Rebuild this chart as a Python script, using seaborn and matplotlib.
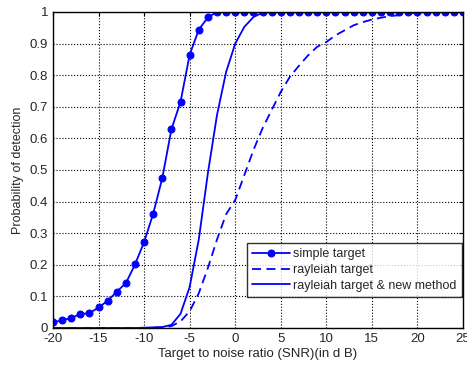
import numpy as np
import pandas as pd
import matplotlib
matplotlib.use("Agg")
import matplotlib.pyplot as plt
import seaborn as sns

snr = list(range(-20, 26))

simple_target = [0.018, 0.024, 0.032, 0.044, 0.047, 0.065, 0.086, 0.115, 0.142, 0.201,
                 0.272, 0.362, 0.475, 0.629, 0.716, 0.865, 0.944, 0.983, 1.0, 1.0,
                 1.0, 1.0, 1.0, 1.0, 1.0, 1.0, 1.0, 1.0, 1.0, 1.0,
                 1.0, 1.0, 1.0, 1.0, 1.0, 1.0, 1.0, 1.0, 1.0, 1.0,
                 1.0, 1.0, 1.0, 1.0, 1.0, 1.0]

rayleigh_target = [0.0, 0.0, 0.0, 0.0, 0.0, 0.0, 0.0, 0.0, 0.0, 0.0,
                   0.0, 0.001, 0.002, 0.006, 0.021, 0.053, 0.11, 0.19, 0.28, 0.36,
                   0.405, 0.484, 0.563, 0.632, 0.69, 0.747, 0.795, 0.83, 0.863, 0.89,
                   0.905, 0.926, 0.942, 0.958, 0.968, 0.976, 0.982, 0.987, 0.99, 0.995,
                   0.998, 1.0, 1.0, 1.0, 1.0, 1.0]

rayleigh_new = [0.0, 0.0, 0.0, 0.0, 0.0, 0.0, 0.0, 0.0, 0.0, 0.0,
                0.001, 0.002, 0.003, 0.01, 0.045, 0.13, 0.28, 0.49, 0.674, 0.81,
                0.9, 0.953, 0.984, 0.998, 1.0, 1.0, 1.0, 1.0, 1.0, 1.0,
                1.0, 1.0, 1.0, 1.0, 1.0, 1.0, 1.0, 1.0, 1.0, 1.0,
                1.0, 1.0, 1.0, 1.0, 1.0, 1.0]

labels = ["simple target", "rayleiah target", "rayleiah target & new method"]

sns.set_style("white")
plt.rcParams['font.family'] = ['Liberation Sans', 'DejaVu Sans']
plt.rcParams['axes.unicode_minus'] = False

fig = plt.figure(figsize=(4.67, 3.67), dpi=100)
ax = fig.add_axes([53/467, 1 - 328/367, 410/467, 316/367])

blue = "#0000ff"
df = pd.DataFrame({"snr": snr, "s": simple_target, "r": rayleigh_target, "n": rayleigh_new})
sns.lineplot(data=df, x="snr", y="s", ax=ax, color=blue, lw=1.3, marker="o",
             markersize=5, markeredgecolor=blue, label=labels[0])
sns.lineplot(data=df, x="snr", y="r", ax=ax, color=blue, lw=1.3, linestyle="--",
             label=labels[1])
sns.lineplot(data=df, x="snr", y="n", ax=ax, color=blue, lw=1.3, label=labels[2])
ax.lines[1].set_dashes([5, 3])

ax.set_xlim(-20, 25)
ax.set_ylim(0, 1)
ax.set_xticks(range(-20, 26, 5))
ax.set_yticks(np.round(np.arange(0, 1.01, 0.1), 1))
ax.set_yticklabels(["0", "0.1", "0.2", "0.3", "0.4", "0.5", "0.6", "0.7", "0.8", "0.9", "1"])
ax.grid(True, color="black", linestyle=":", linewidth=0.8)
ax.tick_params(direction="in", top=True, right=True, labelsize=9.5, length=3, color="black")
for s in ax.spines.values():
    s.set_color("black")
    s.set_linewidth(1.0)
ax.set_xlabel("Target to noise ratio (SNR)(in d B)", fontsize=9.5, labelpad=2)
ax.set_ylabel("Probability of detection", fontsize=9, labelpad=4)

leg = ax.legend(loc="lower right", fontsize=9, frameon=True, fancybox=False,
                borderpad=0.4, labelspacing=0.3, handlelength=3.0, handletextpad=0.3,
                borderaxespad=0.1, bbox_to_anchor=(1.0, 0.095))
leg.get_frame().set_edgecolor("black")
leg.get_frame().set_linewidth(1.0)

fig.savefig("out.png", dpi=100)
